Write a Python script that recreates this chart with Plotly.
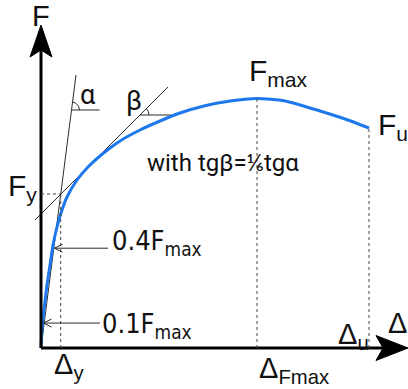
import numpy as np
import plotly.graph_objects as go

# load-displacement curve (1 unit = 1 px of the original)
disp = [0, 1, 3, 6, 9, 12, 16, 21, 26, 36, 47, 59, 79, 99, 119, 139, 163, 189, 216, 244, 279, 304, 328]
force = [0, 18, 38, 63, 83, 103, 121, 138, 151, 168, 181, 192, 207, 218, 227, 235, 242, 247, 249.5, 247, 237, 229, 220]

# characteristic points
d_y, F_y = 19.7, 154
d_Fmax, F_max = 216, 249.5
d_u, F_u = 328, 220

# tangent lines: initial stiffness (alpha) and the 1/6 one (beta)
k_alpha, k_beta, b_beta = 7.8, 1.0, 134
alpha_x = [0, 35]
beta_x = [-6, 127]

BLUE = "#1c78ec"
INK = "#2b2b2b"
REG = "Liberation Sans, Arial, sans-serif"
NAR = "DejaVu Sans Condensed, Liberation Sans Narrow, Liberation Sans, sans-serif"
CAL = "Roboto, Lato, sans-serif"

fig = go.Figure()

# tangents
fig.add_trace(go.Scatter(x=alpha_x, y=[k_alpha * v for v in alpha_x], mode="lines",
                         line=dict(color=INK, width=1)))
fig.add_trace(go.Scatter(x=beta_x, y=[k_beta * v + b_beta for v in beta_x], mode="lines",
                         line=dict(color=INK, width=1)))

# angle marks
ya, yb = 238, 233
xa, xb = ya / k_alpha, (yb - b_beta) / k_beta
fig.add_trace(go.Scatter(x=[xa, xa + 28], y=[ya, ya], mode="lines", line=dict(color=INK, width=1)))
fig.add_trace(go.Scatter(x=[xb, xb + 31], y=[yb, yb], mode="lines", line=dict(color=INK, width=1)))
t = np.linspace(0, np.arctan(k_alpha), 20)
fig.add_trace(go.Scatter(x=xa + 8 * np.cos(t), y=ya + 8 * np.sin(t), mode="lines",
                         line=dict(color=INK, width=1)))
t = np.linspace(0, np.arctan(k_beta), 20)
fig.add_trace(go.Scatter(x=xb + 9 * np.cos(t), y=yb + 9 * np.sin(t), mode="lines",
                         line=dict(color=INK, width=1)))

# the curve
fig.add_trace(go.Scatter(x=disp, y=force, mode="lines",
                         line=dict(color=BLUE, width=3, shape="spline", smoothing=0.6)))

shapes = []
# axes
shapes.append(dict(type="line", x0=0, y0=0, x1=0, y1=300, line=dict(color="black", width=3)))
shapes.append(dict(type="line", x0=0, y0=0, x1=345, y1=0, line=dict(color="black", width=3)))
shapes.append(dict(type="path", path="M 0,323 L -11,291 L 0,298 L 11,291 Z",
                   fillcolor="black", line=dict(color="black", width=1)))
shapes.append(dict(type="path", path="M 367,0 L 335,12.5 L 342,0 L 335,-12.5 Z",
                   fillcolor="black", line=dict(color="black", width=1)))
# dotted guides
dot = dict(color="#444", width=1, dash="dot")
for xv, yv in [(d_y, F_y), (d_Fmax, F_max), (d_u, F_u)]:
    shapes.append(dict(type="line", x0=xv, y0=0, x1=xv, y1=yv, line=dot))
shapes.append(dict(type="line", x0=0, y0=F_y, x1=d_y, y1=F_y, line=dot))
# pointer arrows to 0.4Fmax and 0.1Fmax
for frac, tip, tail in [(0.4, 13.5, 67), (0.1, 2.5, 59)]:
    yv = frac * F_max
    shapes.append(dict(type="path",
                       path=f"M {tail},{yv} L {tip},{yv} M {tip + 8},{yv + 4} L {tip},{yv} L {tip + 8},{yv - 4}",
                       line=dict(color=INK, width=1)))
fig.update_layout(shapes=shapes)

labels = [
    (0, 332, "F", REG, 29, "center"),
    (206, 276, "F<sub>max</sub>", REG, 30, "left"),
    (335, 222, "F<sub>u</sub>", REG, 30, "left"),
    (-35, 161, "F<sub>y</sub>", REG, 30, "left"),
    (69, 106, "0.4F<sub>max</sub>", NAR, 27, "left"),
    (59, 23, "0.1F<sub>max</sub>", NAR, 27, "left"),
    (11, -18, "Δ<sub>y</sub>", REG, 29, "left"),
    (216, -22, "Δ<sub>Fmax</sub>", REG, 29, "left"),
    (295, 12, "Δ<sub>u</sub>", REG, 29, "left"),
    (345, 25, "Δ", REG, 29, "left"),
    (47, 253, "α", CAL, 27, "center"),
    (93, 247, "β", CAL, 27, "center"),
    (182, 185, "with tgβ=⅙tgα", CAL, 24, "center"),
]
for x, y, txt, fam, size, anc in labels:
    fig.add_annotation(x=x, y=y, text=txt, showarrow=False, xanchor=anc, yanchor="middle",
                       font=dict(family=fam, size=size, color="#111"))

fig.update_layout(
    width=408, height=389, autosize=False,
    margin=dict(l=0, r=0, t=0, b=0),
    paper_bgcolor="white", plot_bgcolor="white",
    showlegend=False,
    xaxis=dict(range=[-41, 367], visible=False, fixedrange=True),
    yaxis=dict(range=[-41, 348], visible=False, fixedrange=True),
)
fig.write_html("out.html", config={"displayModeBar": False},
               post_script="document.body.style.margin='0';document.body.style.overflow='hidden';")
